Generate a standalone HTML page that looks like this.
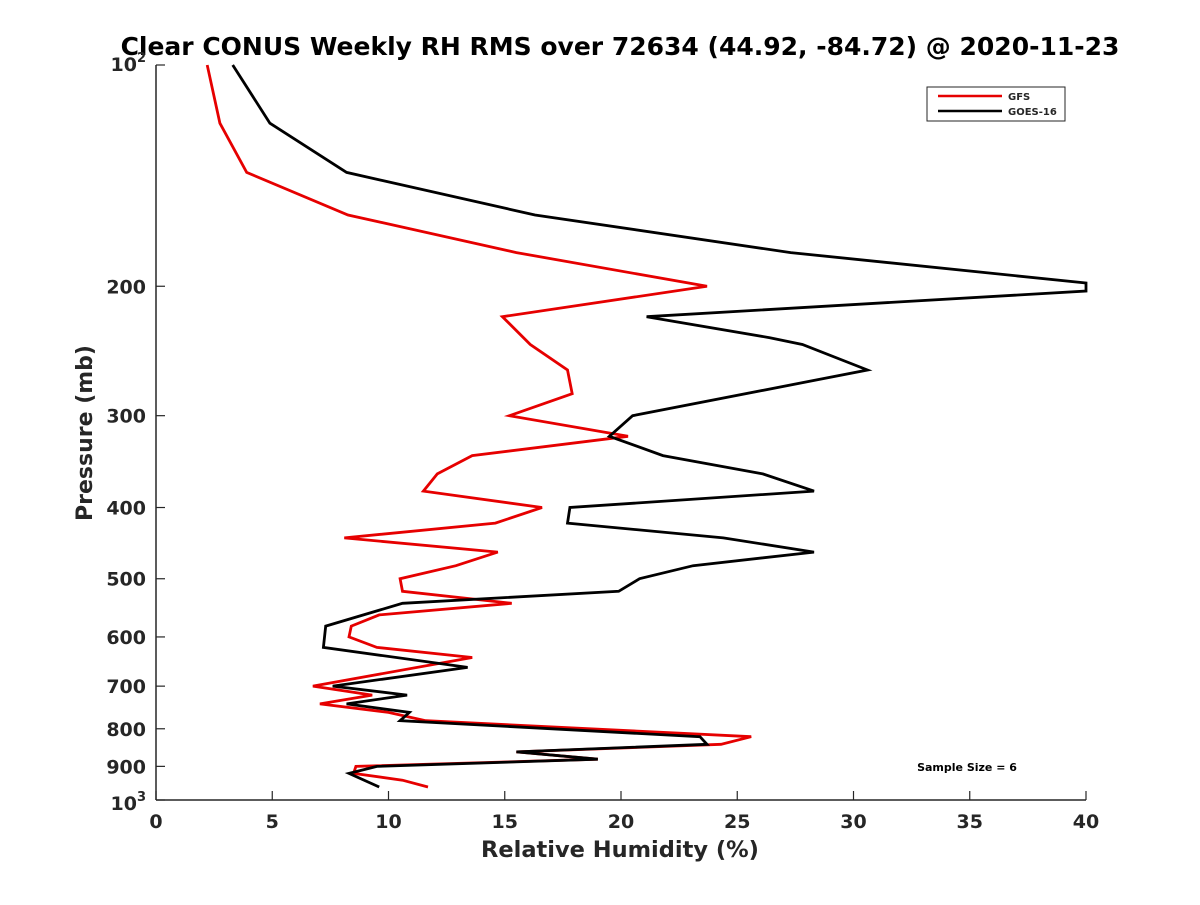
<!DOCTYPE html>
<html><head><meta charset="utf-8"><style>
html,body{margin:0;padding:0;background:#fff;}
svg text{font-family:"DejaVu Sans","Liberation Sans",sans-serif;font-weight:bold;fill:#262626;}
</style></head><body>
<svg id="chart" width="1200" height="900" xmlns="http://www.w3.org/2000/svg">
<rect width="1200" height="900" fill="#fff"/>
<text x="620" y="55" text-anchor="middle" font-size="25" style="fill:#000">Clear CONUS Weekly RH RMS over 72634 (44.92, -84.72) @ 2020-11-23</text>
<g id="axes"></g>
<g id="series"></g>
<text x="620" y="857" text-anchor="middle" font-size="22.5">Relative Humidity (%)</text>
<text transform="translate(92,433) rotate(-90)" text-anchor="middle" font-size="22">Pressure (mb)</text>
<g>
<rect x="927" y="87" width="138" height="34" fill="#fff" stroke="#262626" stroke-width="1"/>
<line x1="938" y1="96" x2="1002" y2="96" stroke="#e60000" stroke-width="2.5"/>
<text x="1008" y="100" font-size="10">GFS</text>
<line x1="938" y1="111" x2="1002" y2="111" stroke="#000" stroke-width="2.5"/>
<text x="1008" y="115" font-size="10">GOES-16</text>
</g>
<text x="967" y="771" text-anchor="middle" font-size="11" style="fill:#000">Sample Size = 6</text>
</svg>
<script>
const xTicks = [0,5,10,15,20,25,30,35,40];
const yTicks = [100,200,300,400,500,600,700,800,900,1000];
const gfsPressure = [100,120,140,160,180,200,220,240,260,280,300,320,340,360,380,400,420,440,460,480,500,520,540,560,580,600,620,640,700,720,740,760,780,820,840,860,880,900,920,940,960];
const gfsValues = [2.2,2.75,3.9,8.26,15.5,23.7,14.9,16.1,17.7,17.9,15.2,20.3,13.6,12.1,11.5,16.6,14.6,8.1,14.7,12.9,10.5,10.6,15.3,9.6,8.4,8.3,9.5,13.6,6.75,9.3,7.05,10.0,11.6,25.6,24.3,15.5,19.0,8.6,8.5,10.6,11.7];
const goesPressure = [100,120,140,160,180,198,203,220,235,240,260,300,320,340,360,380,400,420,440,460,480,500,520,540,580,620,660,700,720,740,760,780,820,840,860,880,900,920,960];
const goesValues = [3.3,4.9,8.2,16.3,27.3,40,40,21.1,26.4,27.8,30.6,20.5,19.5,21.8,26.1,28.3,17.8,17.7,24.4,28.3,23.1,20.8,19.9,10.6,7.3,7.2,13.4,7.6,10.8,8.2,10.9,10.5,23.4,23.7,15.5,19.0,9.5,8.3,9.6];

const NS='http://www.w3.org/2000/svg';
const X0=156,X1=1086,Y0=65,Y1=800;
function xs(v){return X0+(v-0)/(40-0)*(X1-X0);}
function ys(p){return Y0+(Math.log10(p)-2)*(Y1-Y0);}
function mk(tag,attrs,parent){const e=document.createElementNS(NS,tag);for(const k in attrs)e.setAttribute(k,attrs[k]);parent.appendChild(e);return e;}
const ax=document.getElementById('axes');
const c='#262626';
const xl=mk('line',{x1:X0,y1:Y1,x2:X1,y2:Y1,stroke:c,'stroke-width':1.5},ax);


const yl=mk('line',{x1:X0,y1:Y0,x2:X0,y2:Y1,stroke:c,'stroke-width':1.5},ax);


xTicks.forEach(v=>{
  const t=mk('line',{x1:xs(v),y1:Y1,x2:xs(v),y2:Y1-9,stroke:c,'stroke-width':1.2},ax);
  
  
  const l=mk('text',{x:xs(v),y:Y1+28,'text-anchor':'middle','font-size':19},ax);
  
  
  l.textContent=v;
});
yTicks.forEach(p=>{
  const y=ys(p);
  const t=mk('line',{x1:X0,y1:y,x2:X0+9,y2:y,stroke:c,'stroke-width':1.2},ax);
  
  
  const l=mk('text',{x:X0-10,y:y+7,'text-anchor':'end','font-size':19},ax);
  
  
  if(p===100||p===1000){
    l.setAttribute('y',y+(p===100?6:10));
    l.textContent='10';
    const s=mk('tspan',{dy:-9,'font-size':13},l);
    s.textContent=(p===100?'2':'3');
  } else l.textContent=p;
});
const sg=document.getElementById('series');
function draw(pr,vals,color,name){
  const pts=pr.map((p,i)=>xs(vals[i]).toFixed(1)+','+ys(p).toFixed(1)).join(' ');
  const pl=mk('polyline',{points:pts,fill:'none',stroke:color,'stroke-width':2.8,'stroke-linejoin':'miter','stroke-miterlimit':4},sg);
  
  
}
draw(gfsPressure,gfsValues,'#e60000','gfs-line');
draw(goesPressure,goesValues,'#000','goes16-line');
</script>
</body></html>
